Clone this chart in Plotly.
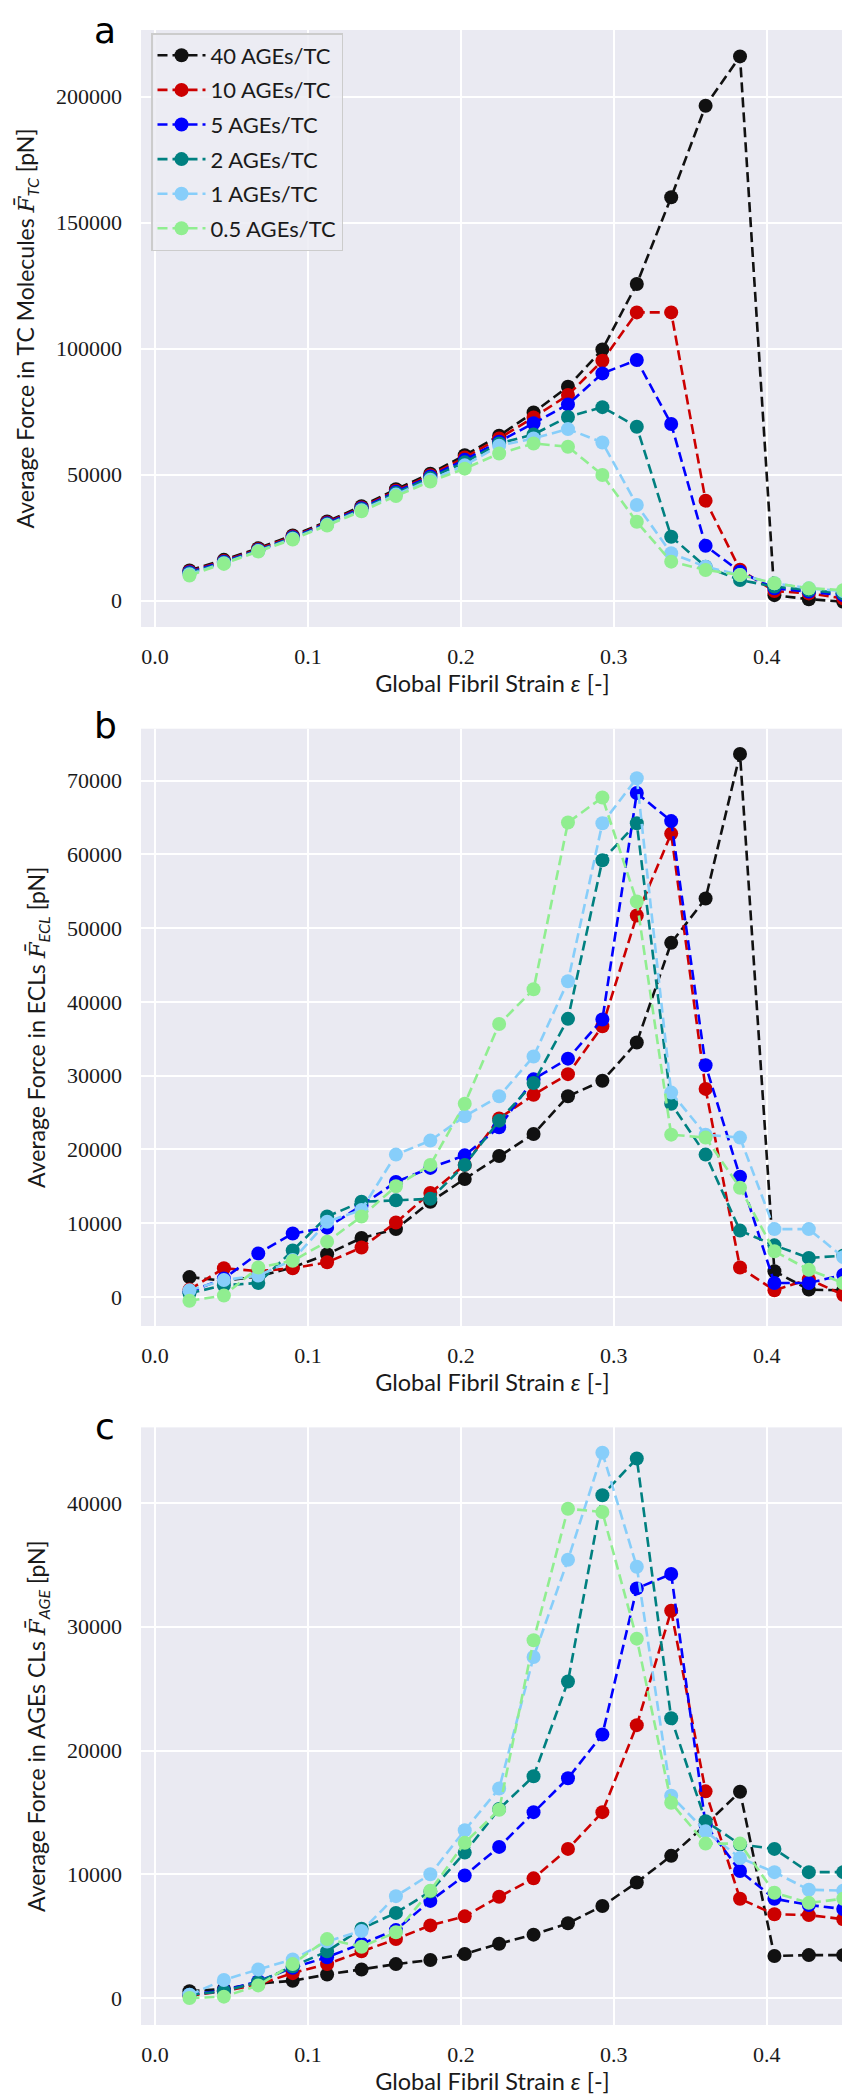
import plotly.graph_objects as go

# ---------------- data ----------------
strain = [0.0225, 0.045, 0.0675, 0.09, 0.1125, 0.135, 0.1575, 0.18, 0.2025, 0.225,
          0.2475, 0.27, 0.2925, 0.315, 0.3375, 0.36, 0.3825, 0.405, 0.4275, 0.45]

series_names = ["40 AGEs/TC", "10 AGEs/TC", "5 AGEs/TC", "2 AGEs/TC", "1 AGEs/TC", "0.5 AGEs/TC"]
series_colors = ["#111111", "#cc0000", "#0000ff", "#008080", "#87cefa", "#90ee90"]

# Panel a: average force in TC molecules [pN]
tc_40 = [12000, 16200, 20800, 25900, 31400, 37500, 44200, 50400, 57700, 65500,
         74700, 84900, 99700, 125700, 160100, 196400, 216000, 2200, 600, -400]
tc_10 = [11600, 15800, 20400, 25500, 31000, 37000, 43600, 49800, 56800, 64400,
         72700, 81600, 95200, 114400, 114400, 39700, 12300, 3800, 2900, 900]
tc_5 = [11300, 15500, 20100, 25200, 30700, 36700, 43200, 49300, 55900, 63100,
        70400, 77900, 90200, 95500, 70100, 21800, 11500, 4900, 3600, 2200]
tc_2 = [10900, 15200, 19900, 24900, 30400, 36300, 42700, 48700, 54900, 62400,
        66000, 72900, 76800, 69000, 25400, 13500, 8200, 5600, 4200, 2900]
tc_1 = [10500, 14900, 19700, 24600, 30100, 35900, 42100, 48000, 53700, 61500,
        64400, 68100, 62800, 38000, 18800, 13500, 10200, 6900, 4900, 3800]
tc_05 = [10000, 14600, 19500, 24300, 29800, 35500, 41500, 47300, 52400, 58400,
         62400, 61100, 49900, 31300, 15500, 12200, 10200, 6900, 4900, 4200]

# Panel b: average force in ECLs [pN]
ecl_40 = [2700, 2200, 2800, 4000, 5800, 8000, 9200, 12900, 16000, 19100,
          22100, 27200, 29300, 34500, 48000, 54000, 73600, 3500, 1000, 900]
ecl_10 = [1000, 3900, 3500, 3900, 4700, 6700, 10100, 14100, 17900, 24200,
          27400, 30200, 36700, 51700, 62800, 28200, 4000, 900, 2400, 300]
ecl_5 = [700, 2500, 5900, 8600, 9400, 12400, 15600, 17500, 19200, 23000,
         29500, 32300, 37600, 68300, 64500, 31400, 16300, 1900, 1900, 3000]
ecl_2 = [500, 1600, 1900, 6300, 10900, 12900, 13100, 13300, 17900, 23900,
         29000, 37700, 59200, 64200, 26200, 19300, 9000, 7000, 5300, 5600]
ecl_1 = [900, 2300, 2900, 5000, 10200, 11800, 19300, 21200, 24500, 27200,
         32600, 42800, 64200, 70300, 27700, 22000, 21600, 9200, 9200, 5400]
ecl_05 = [-500, 200, 4000, 4900, 7500, 10900, 15000, 17900, 26200, 37000,
          41700, 64300, 67700, 53600, 22000, 21600, 14800, 6200, 3700, 1900]

# Panel c: average force in AGEs crosslinks [pN]
age_40 = [550, 730, 1170, 1390, 1900, 2300, 2740, 3070, 3560, 4390,
          5120, 6040, 7430, 9340, 11490, 14000, 16670, 3400, 3470, 3470]
age_10 = [180, 550, 1100, 2010, 2740, 3770, 4760, 5870, 6600, 8180,
          9670, 12050, 15020, 22050, 31290, 16700, 8020, 6770, 6700, 6370]
age_5 = [260, 620, 1350, 2450, 3290, 4390, 5490, 7850, 9900, 12210,
         15020, 17760, 21290, 33100, 34260, 14000, 10260, 8020, 7520, 7190]
age_2 = [260, 550, 1280, 2560, 3770, 5600, 6880, 8600, 11750, 15280,
         17920, 25580, 40630, 43600, 22610, 14290, 12410, 12050, 10170, 10170]
age_1 = [260, 1460, 2310, 3110, 4570, 5420, 8230, 10000, 13560, 16930,
         27560, 35410, 44060, 34850, 16340, 13470, 11320, 10170, 8750, 8680]
age_05 = [0, 110, 1020, 2740, 4760, 4140, 5310, 8670, 12540, 15210,
          28910, 39540, 39270, 29040, 15780, 12480, 12480, 8510, 7690, 8020]

panels = [
    [tc_40, tc_10, tc_5, tc_2, tc_1, tc_05],
    [ecl_40, ecl_10, ecl_5, ecl_2, ecl_1, ecl_05],
    [age_40, age_10, age_5, age_2, age_1, age_05],
]
FBAR = "<span style=\"font-family:'DejaVu Serif'\"><i>F̄</i></span>"
y_titles = [
    "Average Force in TC Molecules " + FBAR + "<sub><i>TC</i></sub> [pN]",
    "Average Force in ECLs " + FBAR + "<sub><i>ECL</i></sub> [pN]",
    "Average Force in AGEs CLs " + FBAR + "<sub><i>AGE</i></sub> [pN]",
]
x_title = "Global Fibril Strain <i>ε</i> [-]"
y_ticks = [
    [0, 50000, 100000, 150000, 200000],
    [0, 10000, 20000, 30000, 40000, 50000, 60000, 70000],
    [0, 10000, 20000, 30000, 40000],
]
y_ranges = [[-10440, 226470], [-3930, 77020], [-2180, 46110]]
x_ticks = [0.0, 0.1, 0.2, 0.3, 0.4]
x_range = [-0.0092, 0.4505]
panel_letters = ["a", "b", "c"]

# ---------------- layout geometry ----------------
W, H = 850, 2100
ML, MR, MT, MB = 133, 14, 22, 83
plot_h = H - MT - MB
panel_px = [(22, 619), (720.7, 1318), (1419.4, 2017)]
letter_py = [22, 717, 1418]


def py2paper(py):
    return (H - MB - py) / plot_h


def px2paper(px):
    return (px - ML) / (W - ML - MR)


SANS = "Lato"
SERIF = "Liberation Serif, serif"
BG = "#eaeaf2"
TXT = "#1a1a1a"

fig = go.Figure()

for p, data in enumerate(panels):
    suffix = "" if p == 0 else str(p + 1)
    for i, ys in enumerate(data):
        fig.add_trace(go.Scatter(
            x=strain, y=ys, mode="lines+markers",
            name=series_names[i],
            legendgroup=series_names[i],
            showlegend=(p == 0),
            line=dict(color=series_colors[i], width=2.6, dash="10px,5px"),
            marker=dict(color=series_colors[i], size=14, line=dict(width=0)),
            xaxis="x" + suffix, yaxis="y" + suffix,
        ))

layout = dict(
    width=W, height=H,
    margin=dict(l=ML, r=MR, t=MT, b=MB),
    paper_bgcolor="white", plot_bgcolor=BG,
    font=dict(family=SANS, size=22, color=TXT),
    showlegend=True,
    legend=dict(
        x=px2paper(143), y=py2paper(25), xanchor="left", yanchor="top",
        bgcolor="rgba(236,236,243,0.85)", bordercolor="#cccccc", borderwidth=1.5,
        font=dict(family=SANS, size=22, color=TXT),
        tracegroupgap=3, itemwidth=48,
    ),
)

annotations = []
for p in range(3):
    suffix = "" if p == 0 else str(p + 1)
    top, bot = panel_px[p]
    layout["xaxis" + suffix] = dict(
        domain=[0, 1], anchor="y" + suffix, range=x_range,
        tickvals=x_ticks, ticktext=[f"{v:.1f}" for v in x_ticks],
        showgrid=True, gridcolor="white", gridwidth=1.8, zeroline=False,
        showline=False, ticks="", ticklabelstandoff=14,
        tickfont=dict(family=SERIF, size=22, color=TXT),
        title=dict(text=x_title, standoff=6,
                   font=dict(family=SANS, size=23.5, color=TXT)),
    )
    layout["yaxis" + suffix] = dict(
        domain=[py2paper(bot), py2paper(top)], anchor="x" + suffix,
        range=y_ranges[p], tickvals=y_ticks[p],
        ticktext=[str(v) for v in y_ticks[p]],
        showgrid=True, gridcolor="white", gridwidth=1.8, zeroline=False,
        showline=False, ticks="", ticklabelstandoff=18,
        tickfont=dict(family=SERIF, size=22, color=TXT),
        title=dict(text=y_titles[p], standoff=14,
                   font=dict(family=SANS, size=23, color=TXT)),
    )
    annotations.append(dict(
        text=panel_letters[p], xref="paper", yref="paper",
        x=px2paper(97), y=py2paper(letter_py[p]), xanchor="center", yanchor="middle",
        showarrow=False, font=dict(family="DejaVu Sans", size=36, color="black"),
    ))

layout["annotations"] = annotations
fig.update_layout(**layout)
fig.write_html("out.html")
